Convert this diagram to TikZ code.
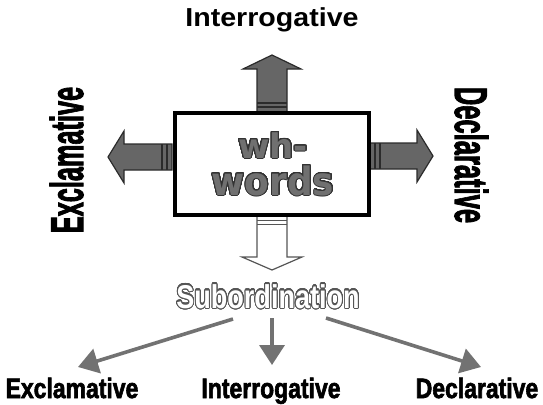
\documentclass[tikz,border=0pt]{standalone}
\usepackage{fontspec}
\setmainfont{Liberation Sans}
\newfontfamily\dejavu{DejaVu Sans}
\newfontfamily\heavyfont{Liberation Sans Bold}[FakeBold=2.5]
\usepackage{contour}
\contournumber{32}
\usetikzlibrary{arrows.meta}
\definecolor{arrfill}{HTML}{666666}
\definecolor{arrline}{HTML}{2B2B2B}
\definecolor{txtfill}{HTML}{707070}
\definecolor{txtline}{HTML}{333333}
\definecolor{subline}{HTML}{555555}
\definecolor{thinarr}{HTML}{727272}
\begin{document}
\begin{tikzpicture}[x=1pt,y=-1pt,
  blockarrow/.style={fill=arrfill, draw=arrline, line width=1.2pt, line join=miter},
  stripe/.style={draw=arrline, line width=1.8pt},
  hollowarrow/.style={fill=white, draw=subline, line width=1.2pt, line join=miter},
  hstripe/.style={draw=subline, line width=1pt},
  toplabel/.style={inner sep=0pt, anchor=base, font=\bfseries\fontsize{26}{26}\selectfont},
  leaflabel/.style={inner sep=0pt, anchor=base, font=\heavyfont\fontsize{28}{28}\selectfont},
  sidelabel/.style={inner sep=0pt, anchor=base, font=\heavyfont\fontsize{46}{46}\selectfont},
  whtext/.style={inner sep=0pt, anchor=base, text=txtfill},
  thinarrow/.style={draw=thinarr, line width=3.6pt, -{Triangle[length=20pt,width=25pt]}}
]
\useasboundingbox (0,0) rectangle (543,404);
% block arrows
\draw[blockarrow] (257,112) -- (257,69) -- (243,69) -- (272,55) -- (301,69) -- (287,69) -- (287,112) -- cycle;
\draw[stripe] (257,103) -- (287,103) (257,107) -- (287,107);
\draw[blockarrow] (172,144) -- (124,144) -- (124,131) -- (108,157) -- (124,183) -- (124,170) -- (172,170) -- cycle;
\draw[stripe] (162,144) -- (162,170) (167,144) -- (167,170);
\draw[blockarrow] (370,143) -- (417,143) -- (417,130) -- (433,156) -- (417,182) -- (417,169) -- (370,169) -- cycle;
\draw[stripe] (375,143) -- (375,169) (380,143) -- (380,169);
\draw[hollowarrow] (257,216) -- (257,257) -- (242,257) -- (272,270) -- (302,257) -- (287,257) -- (287,216) -- cycle;
\draw[hstripe] (257,220) -- (287,220) (257,224) -- (287,224);
% central box
\node[draw=black, fill=white, line width=4pt, minimum width=194pt, minimum height=102pt, inner sep=0pt] (box) at (272,164) {};
\node[whtext, font=\dejavu\bfseries\fontsize{34}{34}\selectfont] (wh) at (273,158) {\contourlength{1pt}\contour{txtline}{wh-}};
\node[whtext, font=\dejavu\bfseries\fontsize{39}{39}\selectfont] (words) at (273,195) {\contourlength{1pt}\scalebox{0.92}[1]{\contour{txtline}{words}}};
% labels
\node[toplabel] (inttop) at (272,27) {\scalebox{1.1}[1]{Interrogative}};
\node[sidelabel, rotate=90] (excside) at (83,160) {\scalebox{0.55}[1]{Exclamative}};
\node[sidelabel, rotate=-90] (decside) at (455,155) {\scalebox{0.555}[1]{Declarative}};
\node[inner sep=0pt, anchor=base, text=white, font=\bfseries\fontsize{33}{33}\selectfont] (sub) at (268,308) {\contourlength{1.1pt}\scalebox{0.82}[1]{\contour{subline}{Subordination}}};
\node[leaflabel] (excbot) at (72,398) {\scalebox{0.82}[1]{Exclamative}};
\node[leaflabel] (intbot) at (271,398) {\scalebox{0.82}[1]{Interrogative}};
\node[leaflabel] (decbot) at (477,398) {\scalebox{0.82}[1]{Declarative}};
% thin arrows
\coordinate (s1) at (233,319);
\coordinate (s2) at (272,318);
\coordinate (s3) at (326,318);
\coordinate (t1) at (78,367);
\coordinate (t2) at (272,365);
\coordinate (t3) at (481,367);
\draw[thinarrow] (s1) -- (t1);
\draw[thinarrow] (s2) -- (t2);
\draw[thinarrow] (s3) -- (t3);
\end{tikzpicture}
\end{document}
